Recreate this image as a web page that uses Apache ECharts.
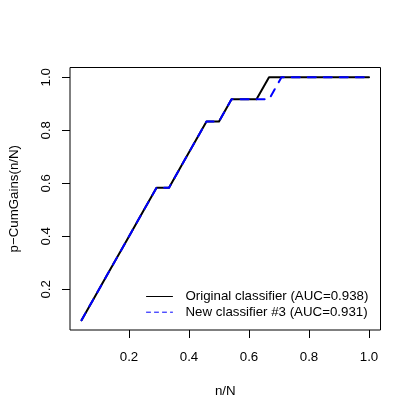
<!DOCTYPE html>
<html>
<head>
<meta charset="utf-8">
<script src="https://cdn.jsdelivr.net/npm/echarts@6/dist/echarts.min.js"></script>
<style>
  html, body { margin: 0; padding: 0; background: #fff; }
  #chart { width: 415px; height: 415px; }
</style>
</head>
<body>
<div id="chart"></div>
<script>
  // n/N for the 24 cases
  const nOverN = [0.0417, 0.0833, 0.125, 0.1667, 0.2083, 0.25, 0.2917, 0.3333,
    0.375, 0.4167, 0.4583, 0.5, 0.5417, 0.5833, 0.625, 0.6667, 0.7083, 0.75,
    0.7917, 0.8333, 0.875, 0.9167, 0.9583, 1.0];
  // p-CumGains, original classifier
  const gainsOriginal = [0.0833, 0.1667, 0.25, 0.3333, 0.4167, 0.5, 0.5833, 0.5833,
    0.6667, 0.75, 0.8333, 0.8333, 0.9167, 0.9167, 0.9167, 1, 1, 1,
    1, 1, 1, 1, 1, 1];
  // p-CumGains, new classifier #3
  const gainsNew = [0.0833, 0.1667, 0.25, 0.3333, 0.4167, 0.5, 0.5833, 0.5833,
    0.6667, 0.75, 0.8333, 0.8333, 0.9167, 0.9167, 0.9167, 0.9167, 1, 1,
    1, 1, 1, 1, 1, 1];
  const xTicks = [0.2, 0.4, 0.6, 0.8, 1.0];
  const yTicks = [0.2, 0.4, 0.6, 0.8, 1.0];
  const nameOriginal = 'Original classifier (AUC=0.938)';
  const nameNew = 'New classifier #3 (AUC=0.931)';

  const font = "'Liberation Sans', Arial, Helvetica, sans-serif";
  const fs = 13.3;
  const pairs = (xs, ys) => xs.map((x, i) => [x, ys[i]]);

  const chart = echarts.init(document.getElementById('chart'));
  chart.setOption({
    animation: false,
    backgroundColor: '#fff',
    textStyle: { fontFamily: font, color: '#000' },
    grid: {
      left: 68, right: 34.5, top: 67.5, bottom: 85,
      show: true, borderColor: '#000', borderWidth: 1,
      backgroundColor: 'transparent'
    },
    xAxis: {
      type: 'value',
      min: 0.0033, max: 1.0383,
      name: 'n/N',
      nameLocation: 'middle',
      nameGap: 55,
      nameTextStyle: { fontFamily: font, fontSize: fs, color: '#000' },
      axisLine: { show: false },
      axisTick: { show: true, inside: false, length: 8, customValues: xTicks,
        lineStyle: { color: '#000', width: 1 } },
      axisLabel: { customValues: xTicks, margin: 21, fontFamily: font, fontSize: fs, color: '#000',
        formatter: v => v.toFixed(1) },
      splitLine: { show: false }
    },
    yAxis: {
      type: 'value',
      min: 0.0467, max: 1.0367,
      name: 'p\u2212CumGains(n/N)',
      nameLocation: 'middle',
      nameGap: 49,
      nameTextStyle: { fontFamily: font, fontSize: fs, color: '#000' },
      axisLine: { show: false },
      axisTick: { show: true, inside: false, length: 8, customValues: yTicks,
        lineStyle: { color: '#000', width: 1 } },
      axisLabel: { customValues: yTicks, rotate: 90, margin: 17, fontFamily: font, fontSize: fs, color: '#000',
        formatter: v => v.toFixed(1) },
      splitLine: { show: false }
    },
    legend: {
      orient: 'vertical',
      left: 146, top: 290,
      padding: 0,
      itemWidth: 26, itemHeight: 14, itemGap: 2.7,
      textStyle: { fontFamily: font, fontSize: fs, color: '#000', padding: [0, 0, 0, 8] },
      data: [
        { name: nameOriginal, itemStyle: { opacity: 0 }, lineStyle: { width: 1 } },
        { name: nameNew, itemStyle: { opacity: 0 }, lineStyle: { width: 1, type: [4, 4] } }
      ]
    },
    series: [
      {
        name: nameOriginal,
        type: 'line',
        data: pairs(nOverN, gainsOriginal),
        symbol: 'none',
        lineStyle: { color: '#000', width: 2, cap: 'round', join: 'round' },
        itemStyle: { color: '#000' }
      },
      {
        name: nameNew,
        type: 'line',
        data: pairs(nOverN, gainsNew),
        symbol: 'none',
        lineStyle: { color: '#0000ff', width: 2, type: [8, 8], cap: 'round', join: 'round' },
        itemStyle: { color: '#0000ff' }
      }
    ]
  });
</script>
</body>
</html>
